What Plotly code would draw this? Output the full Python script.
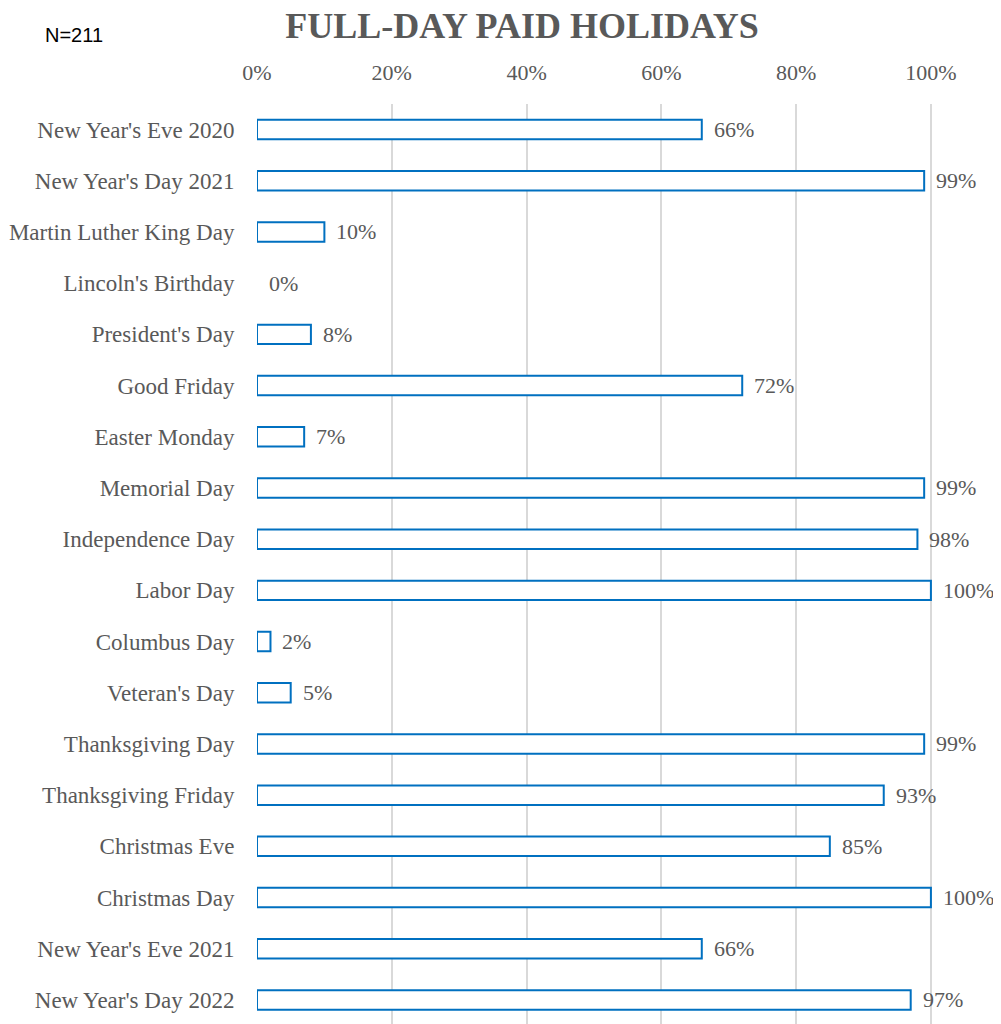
import plotly.graph_objects as go

holidays = [
    "New Year's Eve 2020", "New Year's Day 2021", "Martin Luther King Day",
    "Lincoln's Birthday", "President's Day", "Good Friday", "Easter Monday",
    "Memorial Day", "Independence Day", "Labor Day", "Columbus Day",
    "Veteran's Day", "Thanksgiving Day", "Thanksgiving Friday",
    "Christmas Eve", "Christmas Day", "New Year's Eve 2021", "New Year's Day 2022",
]
pct_paid = [66, 99, 10, 0, 8, 72, 7, 99, 98, 100, 2, 5, 99, 93, 85, 100, 66, 97]
tick_vals = [0, 0.2, 0.4, 0.6, 0.8, 1.0]
tick_text = ["0%", "20%", "40%", "60%", "80%", "100%"]

serif = "Liberation Serif, Times New Roman, serif"
gray = "#595959"
blue = "#0070C0"

shares = [v / 100 for v in pct_paid]
# an empty bar should not leave a stray outline
line_widths = [0 if v == 0 else 2 for v in pct_paid]

fig = go.Figure(go.Bar(
    x=shares,
    y=holidays,
    orientation='h',
    width=0.38,
    marker=dict(color='white', line=dict(color=blue, width=line_widths)),
    hoverinfo='skip',
))

# value labels right of each bar
for name, v in zip(holidays, pct_paid):
    fig.add_annotation(
        x=v / 100, y=name, xref='x', yref='y',
        text=f"{v}%", showarrow=False,
        xanchor='left', xshift=10,
        font=dict(family=serif, size=22, color=gray),
    )

fig.add_annotation(
    text="N=211", xref='paper', yref='paper', x=-0.2876, y=1.0755,
    xanchor='left', yanchor='middle', showarrow=False,
    font=dict(family="Liberation Sans, Arial, sans-serif", size=20, color='black'),
)

# page has an 8px body margin, so the figure is a little smaller than the window
fig.update_layout(
    width=993, height=1016,
    title=dict(
        text="<b>FULL-DAY PAID HOLIDAYS</b>",
        x=0.5176, xanchor='center', xref='container',
        y=0.9833, yanchor='middle', yref='container',
        font=dict(family=serif, size=36, color=gray),
    ),
    paper_bgcolor='white', plot_bgcolor='white',
    margin=dict(l=249, r=0, t=96, b=0, pad=0),
    showlegend=False,
    xaxis=dict(
        side='top', range=[0, 1.104],
        tickvals=tick_vals, ticktext=tick_text,
        showgrid=True, gridcolor='#d9d9d9', gridwidth=2,
        zeroline=False, showline=False,
        ticks='outside', ticklen=14, tickcolor='rgba(0,0,0,0)',
        tickfont=dict(family=serif, size=22, color=gray),
    ),
    yaxis=dict(
        range=[17.47, -0.5], showgrid=False, zeroline=False, showline=False,
        ticks='outside', ticklen=17, tickcolor='rgba(0,0,0,0)',
        tickfont=dict(family=serif, size=23, color=gray),
    ),
)

fig.write_html("out.html")
